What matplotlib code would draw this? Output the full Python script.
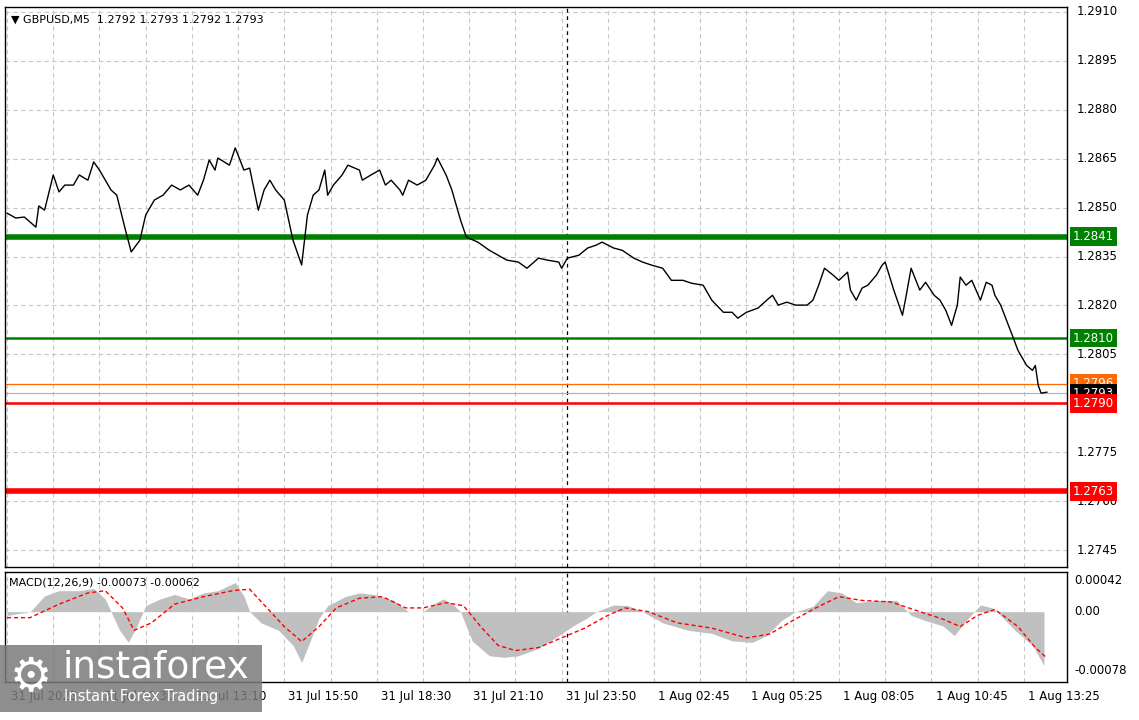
import matplotlib
matplotlib.use("Agg")
import matplotlib.pyplot as plt
from matplotlib.patches import Rectangle

# ---- data ----
price_bar = [0,3,6,10,11,13,16,18,20,23,25,28,30,32,36,38,41,43,46,48,51,54,57,60,63,66,68,70,72,73,77,79,80,82,84,87,89,91,93,96,99,102,104,106,108,110,111,113,116,118,122,123,126,129,131,133,136,137,139,142,145,148,149,152,154,157,159,163,167,170,173,177,180,184,187,191,192,194,198,201,204,206,210,213,217,220,223,227,230,234,237,241,244,248,251,253,256,260,263,265,267,270,273,277,279,281,283,286,288,291,292,294,296,298,301,303,304,307,310,311,313,316,318,321,323,325,327,329,330,332,334,337,339,341,342,344,346,348,350,353,355,356,357,358,360]
price_val = [1.28483,1.28468,1.28471,1.28440,1.28505,1.28492,1.28600,1.28548,1.28569,1.28569,1.28600,1.28584,1.28640,1.28615,1.28554,1.28538,1.28431,1.28364,1.28400,1.28477,1.28523,1.28538,1.28569,1.28554,1.28569,1.28538,1.28584,1.28646,1.28615,1.28652,1.28630,1.28683,1.28661,1.28615,1.28621,1.28492,1.28554,1.28584,1.28554,1.28523,1.28400,1.28324,1.28477,1.28538,1.28554,1.28615,1.28538,1.28569,1.28600,1.28630,1.28615,1.28584,1.28600,1.28615,1.28569,1.28584,1.28554,1.28538,1.28584,1.28569,1.28584,1.28630,1.28652,1.28600,1.28554,1.28462,1.28410,1.28394,1.28369,1.28354,1.28339,1.28333,1.28314,1.28345,1.28339,1.28333,1.28314,1.28345,1.28354,1.28376,1.28385,1.28394,1.28376,1.28369,1.28345,1.28333,1.28324,1.28314,1.28277,1.28277,1.28268,1.28262,1.28216,1.28179,1.28179,1.28161,1.28179,1.28192,1.28216,1.28231,1.28201,1.28210,1.28201,1.28201,1.28216,1.28262,1.28314,1.28293,1.28277,1.28302,1.28247,1.28216,1.28253,1.28262,1.28293,1.28324,1.28333,1.28247,1.28170,1.28216,1.28314,1.28247,1.28271,1.28231,1.28216,1.28185,1.28139,1.28201,1.28287,1.28262,1.28277,1.28216,1.28271,1.28262,1.28231,1.28201,1.28155,1.28109,1.28062,1.28016,1.28001,1.28016,1.27955,1.27931,1.27934]

levels = [1.2841, 1.2810, 1.2796, 1.2793, 1.2790, 1.2763]
level_colors = ["#008000", "#008000", "#ff6a00", "#000000", "#ff0000", "#ff0000"]
line_colors = ["#008000", "#008000", "#ff6a00", "#b0b0b0", "#ff0000", "#ff0000"]
level_widths = [4.0, 1.8, 0.9, 0.8, 1.8, 4.0]

price_ticks = [1.2910,1.2895,1.2880,1.2865,1.2850,1.2835,1.2820,1.2805,1.2790,1.2775,1.2760,1.2745]

hist_bar = [0,8,13,18,25,30,34,36,39,42,45,48,53,58,63,68,73,79,82,84,88,94,99,102,105,108,111,117,122,127,134,139,144,148,151,154,157,161,167,172,177,184,191,196,201,204,210,215,220,227,236,244,251,258,263,268,273,279,284,289,294,301,308,313,318,324,328,332,337,341,344,349,355,359]
hist_val = [-0.00005,0,0.00021,0.00028,0.00028,0.00031,0.00017,0,-0.00025,-0.00041,-0.00019,0.00008,0.00017,0.00023,0.00017,0.00025,0.00028,0.00039,0.00021,0,-0.00015,-0.00025,-0.00045,-0.00068,-0.00039,-0.00009,0.00008,0.00020,0.00025,0.00023,0.00015,0,0,0.00011,0.00017,0.00011,0,-0.00039,-0.00059,-0.00061,-0.00059,-0.00049,-0.00032,-0.00019,-0.00008,0,0.00009,0.00008,0,-0.00015,-0.00025,-0.00029,-0.00039,-0.00041,-0.00032,-0.00012,0,0.00007,0.00028,0.00025,0.00012,0.00015,0.00015,-0.00005,-0.00012,-0.00019,-0.00032,-0.00012,0.00009,0.00005,-0.00005,-0.00025,-0.00045,-0.00072]

sig_bar = [0,8,18,28,34,40,44,50,58,68,78,84,90,96,102,108,114,122,130,138,144,152,158,164,170,176,184,192,200,208,214,222,232,244,256,264,272,280,288,296,306,316,324,330,336,342,350,356,360]
sig_val = [-0.00008,-0.00008,0.00010,0.00025,0.00028,0.00005,-0.00025,-0.00015,0.00010,0.00020,0.00028,0.00030,0.00005,-0.00020,-0.00040,-0.00020,0.00005,0.00018,0.00020,0.00005,0.00005,0.00012,0.00008,-0.00020,-0.00045,-0.00052,-0.00048,-0.00035,-0.00022,-0.00005,0.00005,0.00000,-0.00015,-0.00022,-0.00035,-0.00030,-0.00012,0.00005,0.00020,0.00015,0.00013,0.00000,-0.00010,-0.00020,-0.00005,0.00003,-0.00020,-0.00048,-0.00062]

tick_bars = [0,32,64,96,128,160,192,224,256,288,320,352]
tick_labels = ["31 Jul 2023","31 Jul 10:30","31 Jul 13:10","31 Jul 15:50","31 Jul 18:30","31 Jul 21:10",
               "31 Jul 23:50","1 Aug 02:45","1 Aug 05:25","1 Aug 08:05","1 Aug 10:45","1 Aug 13:25"]
day_sep = 194
macd_ticks = [0.00042, 0.0, -0.00078]
macd_tick_labels = ["0.00042", "0.00", "-0.00078"]

W, H = 1139, 720
fig = plt.figure(figsize=(W/100, H/100), dpi=100)
fig.patch.set_facecolor("white")
x0, x1 = 5, 1067
xlim = (-0.7, (x1 - x0) / 2.894)
ax = fig.add_axes([x0/W, (H-567)/H, (x1-x0)/W, 560/H])
ax2 = fig.add_axes([x0/W, (H-682)/H, (x1-x0)/W, 110/H])

grid_kw = dict(color="#c8c8c8", lw=0.8, ls=(0, (4, 3)), zorder=0)
for a in (ax, ax2):
    a.set_xlim(*xlim)
    for s in a.spines.values():
        s.set_color("black"); s.set_linewidth(1.0)
    a.set_xticks([])
    a.set_yticks([])
    for b in range(0, 368, 16):
        a.axvline(b, **grid_kw)
    a.axvline(day_sep, color="black", lw=0.9, ls=(0, (3, 3)), zorder=1)

# main panel
ax.set_ylim(1.27398, 1.29115)
for p in price_ticks:
    ax.axhline(p, **grid_kw)
ax.plot(price_bar, price_val, color="black", lw=1.0, zorder=3)
for lv, lc, lw in zip(levels, line_colors, level_widths):
    ax.axhline(lv, color=lc, lw=lw, zorder=2)

for p in price_ticks:
    if abs(p - 1.2790) < 1e-6:
        continue
    ax.annotate(f"{p:.4f}", xy=(1, p), xycoords=("axes fraction", "data"),
                xytext=(7, 0), textcoords="offset points", va="center", ha="left", fontsize=8.5)
for lv, lc in zip(levels, level_colors):
    ax.annotate(f"{lv:.4f}", xy=(1, lv), xycoords=("axes fraction", "data"),
                xytext=(4, 0), textcoords="offset points", va="center", ha="left", fontsize=8.5,
                color="white", bbox=dict(boxstyle="square,pad=0.25", fc=lc, ec="none"))

ax.text(0.006, 0.987, "▼ GBPUSD,M5  1.2792 1.2793 1.2792 1.2793", transform=ax.transAxes,
        fontsize=8, va="top", ha="left")

# MACD panel
ax2.set_ylim(-0.00094, 0.00053)
ax2.fill_between(hist_bar, hist_val, 0, color="#c0c0c0", lw=0, zorder=2)
ax2.plot(sig_bar, sig_val, color="#ff0000", lw=1.0, ls=(0, (3, 2)), zorder=3)
for v, lab in zip(macd_ticks, macd_tick_labels):
    ax2.annotate(lab, xy=(1, v), xycoords=("axes fraction", "data"), xytext=(5, 0),
                 textcoords="offset points", va="center", ha="left", fontsize=8.5)
ax2.text(0.004, 0.95, "MACD(12,26,9) -0.00073 -0.00062", transform=ax2.transAxes,
         fontsize=8, va="top", ha="left")

# time labels
for b, lab in zip(tick_bars, tick_labels):
    ax2.annotate(lab, xy=(b, 0), xycoords=("data", "axes fraction"), xytext=(3, -6),
                 textcoords="offset points", va="top", ha="left", fontsize=8.5)

# watermark
fig.patches.append(Rectangle((0, (H-712)/H), 262/W, 67/H, transform=fig.transFigure,
                             fc="#7a7a7a", ec="none", alpha=0.85, zorder=10))
fig.text(10/W, (H-678)/H, "⚙", fontsize=34, color="white", va="center", ha="left", zorder=11)
fig.text(62/W, (H-668)/H, "instaforex", fontsize=27, color="white", va="center", ha="left",
         zorder=11, fontfamily="DejaVu Sans")
fig.text(64/W, (H-697)/H, "Instant Forex Trading", fontsize=10.5, color="white", va="center",
         ha="left", zorder=11)

fig.savefig("out.png", dpi=100)
